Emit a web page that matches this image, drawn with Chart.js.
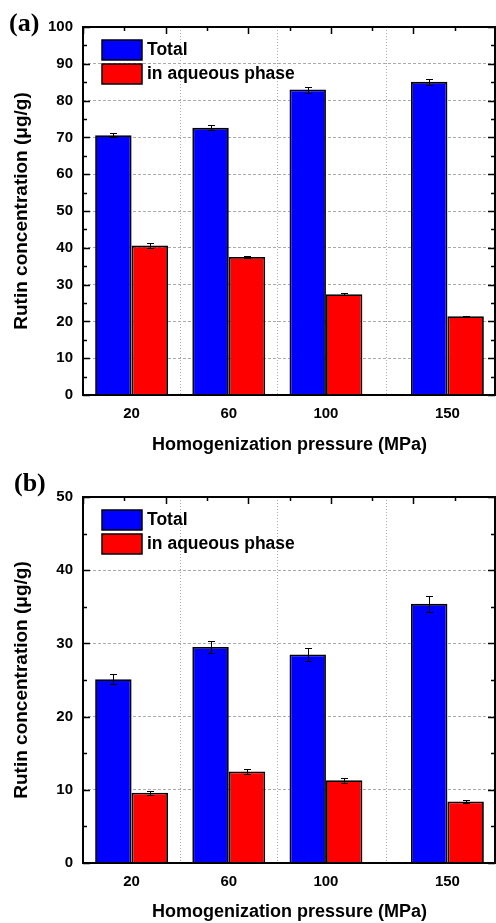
<!DOCTYPE html>
<html>
<head>
<meta charset="utf-8">
<script src="https://cdn.jsdelivr.net/npm/chart.js@4"></script>
<style>
  body { margin: 0; background: #fff; }
  #wrap { position: relative; width: 496px; height: 923px; }
  canvas { display: block; }
  .panel { position: absolute; font: bold 26px "Liberation Serif", "Times New Roman", serif; line-height: 1; color: #000; }
</style>
</head>
<body>
<div id="wrap">
  <canvas id="chartA" width="496" height="460"></canvas>
  <canvas id="chartB" width="496" height="463"></canvas>
  <div class="panel" style="left:9px;top:10px">(a)</div>
  <div class="panel" style="left:14px;top:470px">(b)</div>
</div>
<script>
const pressures = [20, 60, 100, 150];

// panel (a)
const totalA = [70.6, 72.6, 83.0, 85.1];
const totalAErr = [0.6, 0.7, 0.8, 0.9];
const aqueousA = [40.6, 37.5, 27.4, 21.4];
const aqueousAErr = [0.6, 0.4, 0.3, 0.2];

// panel (b)
const totalB = [25.1, 29.5, 28.5, 35.4];
const totalBErr = [0.7, 0.8, 0.9, 1.1];
const aqueousB = [9.6, 12.5, 11.3, 8.4];
const aqueousBErr = [0.3, 0.35, 0.35, 0.2];

const seriesNames = ["Total", "in aqueous phase"];
const xTitle = "Homogenization pressure (MPa)";
const yTitle = "Rutin concentration (μg/g)";

const FONT = "'Liberation Sans', Arial, sans-serif";

// error bars, frame with inward ticks, legend inside the plot
const framePlugin = {
  id: "frame",
  afterDatasetsDraw(chart) {
    const { ctx, chartArea: a, scales: { x, y } } = chart;
    ctx.save();

    // error bars
    ctx.strokeStyle = "#000";
    ctx.lineWidth = 1;
    chart.data.datasets.forEach((ds, i) => {
      chart.getDatasetMeta(i).data.forEach((bar, j) => {
        const v = ds.data[j].y, e = ds.errors[j];
        const yt = Math.round(y.getPixelForValue(v + e)) + 0.5;
        const yb = Math.round(y.getPixelForValue(v - e)) + 0.5;
        const bx = Math.round(bar.x) + 0.5;
        ctx.beginPath();
        ctx.moveTo(bx, yt); ctx.lineTo(bx, yb);
        ctx.moveTo(bx - 3.5, yt); ctx.lineTo(bx + 3.5, yt);
        ctx.moveTo(bx - 3.5, yb); ctx.lineTo(bx + 3.5, yb);
        ctx.stroke();
      });
    });

    // frame
    ctx.lineWidth = 2;
    ctx.strokeRect(a.left, a.top, a.right - a.left - 1, a.bottom - a.top);

    // left and right ticks (inward)
    const step = chart.options.scales.y.ticks.stepSize;
    ctx.lineWidth = 1.5;
    ctx.beginPath();
    for (let v = y.min; v <= y.max + 1e-9; v += step / 2) {
      const major = Math.abs(v / step - Math.round(v / step)) < 1e-6;
      const len = major ? 7 : 4;
      const py = Math.round(y.getPixelForValue(v)) + 0.5;
      ctx.moveTo(a.left, py); ctx.lineTo(a.left + len, py);
      ctx.moveTo(a.right - 1, py); ctx.lineTo(a.right - 1 - len, py);
    }
    // top ticks
    const w = a.right - a.left;
    for (let i = 0; i <= 10; i++) {
      const px = Math.round(a.left + (w * i) / 10) + 0.5;
      const len = i % 2 === 0 ? 7 : 4;
      ctx.moveTo(px, a.top); ctx.lineTo(px, a.top + len);
    }
    ctx.stroke();

    // legend
    ctx.font = "bold 17.5px " + FONT;
    ctx.textBaseline = "middle";
    ctx.textAlign = "left";
    chart.data.datasets.forEach((ds, i) => {
      const bx = a.left + 19, by = a.top + 13 + i * 24;
      ctx.fillStyle = ds.backgroundColor;
      ctx.fillRect(bx, by, 40, 20);
      ctx.lineWidth = 1.5;
      ctx.strokeStyle = "#000";
      ctx.strokeRect(bx, by, 40, 20);
      ctx.fillStyle = "#000";
      ctx.fillText(ds.label, bx + 45, by + 10);
    });
    ctx.restore();
  }
};

function makeChart(id, total, totalErr, aqueous, aqueousErr, yMax, padTop, axisH, titlePad) {
  return new Chart(id, {
    type: "bar",
    data: {
      datasets: [
        {
          label: seriesNames[0],
          data: pressures.map((p, i) => ({ x: p, y: total[i] })),
          errors: totalErr,
          backgroundColor: "#0000FF",
          borderColor: "#000",
          borderWidth: 1.8
        },
        {
          label: seriesNames[1],
          data: pressures.map((p, i) => ({ x: p, y: aqueous[i] })),
          errors: aqueousErr,
          backgroundColor: "#FF0000",
          borderColor: "#000",
          borderWidth: 1.8
        }
      ]
    },
    options: {
      responsive: false,
      animation: false,
      categoryPercentage: 0.75,
      barPercentage: 1.0,
      layout: { padding: { top: padTop, right: 0, bottom: 0, left: 0 } },
      plugins: { legend: { display: false }, tooltip: { enabled: false } },
      scales: {
        x: {
          type: "linear",
          min: 0,
          max: 170,
          offset: false,
          afterBuildTicks: s => { s.ticks = pressures.map(v => ({ value: v })); },
          afterFit: s => { s.height = axisH; },
          ticks: { color: "#000", font: { family: FONT, size: 15, weight: "bold" }, padding: 10 },
          grid: { color: "#aaa", lineWidth: 1, drawTicks: false },
          border: { display: false, dash: [1, 2] },
          title: { display: true, text: xTitle, color: "#000", font: { family: FONT, size: 18, weight: "bold" }, padding: { top: 0, bottom: titlePad } }
        },
        y: {
          min: 0,
          max: yMax,
          ticks: { stepSize: 10, color: "#000", font: { family: FONT, size: 15, weight: "bold" }, padding: 10 },
          afterFit: s => { s.width = 83; },
          grid: { color: "#aaa", lineWidth: 1, drawTicks: false },
          border: { display: false, dash: [3, 2] },
          title: { display: true, text: yTitle, color: "#000", font: { family: FONT, size: 19, weight: "bold" }, padding: { top: 10, bottom: 0 } }
        }
      }
    },
    plugins: [framePlugin]
  });
}

makeChart("chartA", totalA, totalAErr, aqueousA, aqueousAErr, 100, 27, 65, 4);
makeChart("chartB", totalB, totalBErr, aqueousB, aqueousBErr, 50, 37, 60, 0);
</script>
</body>
</html>
